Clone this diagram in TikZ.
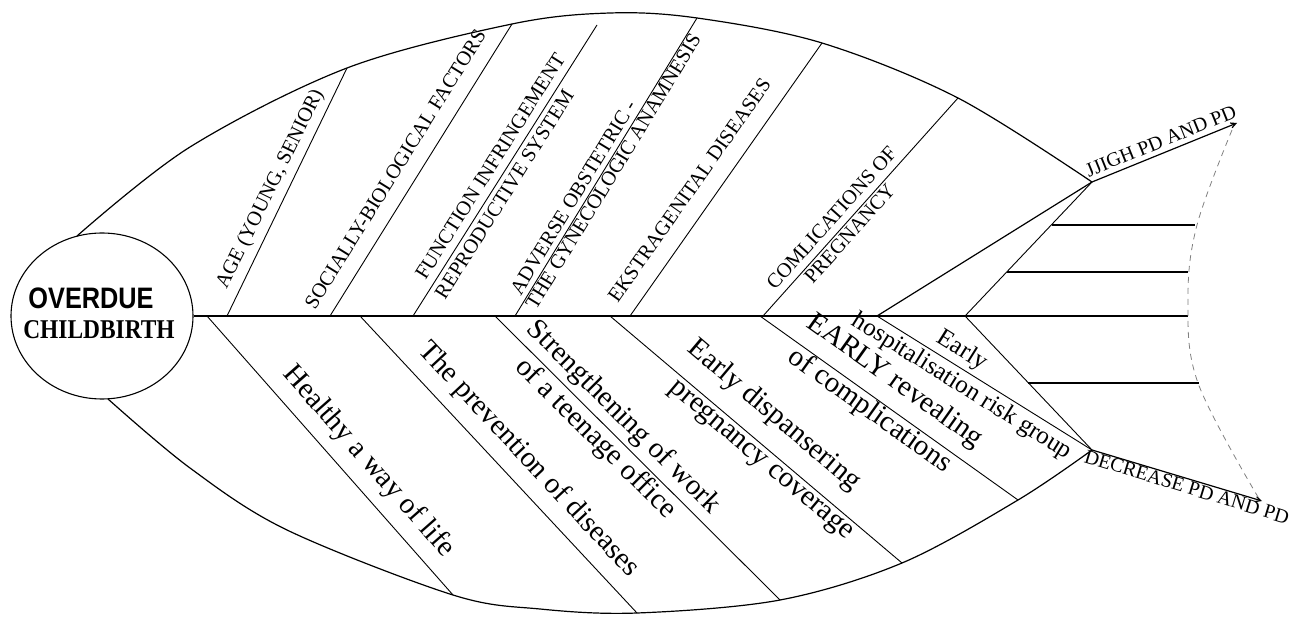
\documentclass[tikz,border=0pt]{standalone}
\usepackage{fontspec}
\setmainfont{Liberation Serif}
\newfontfamily\arialfont{Liberation Sans}
\usetikzlibrary{arrows.meta,shapes.geometric}
\begin{document}
\begin{tikzpicture}[x=1pt,y=-1pt,
  bone/.style={line width=0.9pt},
  body/.style={line width=1.2pt},
  spinel/.style={line width=1.8pt},
  fin/.style={line width=1.3pt},
  toplab/.style={font=\fontsize{20.5}{20.5}\selectfont, inner sep=0pt, text height=0.68em, text depth=0pt},
  botlab/.style={font=\fontsize{29}{29}\selectfont, inner sep=0pt, text height=0.68em, text depth=0.2em},
  midlab/.style={font=\fontsize{25}{25}\selectfont, inner sep=0pt, text height=0.68em, text depth=0.2em},
  tiplab/.style={font=\fontsize{20}{20}\selectfont, inner sep=0pt, text height=0.68em, text depth=0pt},
  tip/.style={-{Straight Barb[length=5pt,width=5pt]}}
]
\useasboundingbox (0,0) rectangle (1298,617);
% head
\node[draw, line width=1.1pt, ellipse, minimum width=182pt, minimum height=166pt, inner sep=0pt] (head) at (102,316) {};
\node[inner sep=0pt] (over) at (91,298) {\scalebox{1}[1.17]{\arialfont\bfseries\fontsize{25.3}{26}\selectfont OVERDUE}};
\node[inner sep=0pt] (child) at (99,330) {\scalebox{1}[1.16]{\bfseries\fontsize{23.4}{26}\selectfont CHILDBIRTH}};
% coordinates
\coordinate (c0) at (77,236);
\coordinate (c1) at (190,147);
\coordinate (cm) at (610,13);
\coordinate (d0) at (108,399);
\coordinate (d1) at (190,468);
\coordinate (d2) at (287,530);
\coordinate (d3) at (540,609);
\coordinate (d4) at (637,613);
\coordinate (spend) at (1188,316);
\coordinate (s1) at (227,316); \coordinate (t1) at (347,68);
\coordinate (s2) at (330,316); \coordinate (t2) at (512,24);
\coordinate (s3) at (413,316); \coordinate (t3) at (597,25);
\coordinate (s4) at (515,316); \coordinate (t4) at (697,18);
\coordinate (s5) at (630,316); \coordinate (t5) at (822,43);
\coordinate (s6) at (763,316); \coordinate (t6) at (958,98);
\coordinate (b1) at (207,316); \coordinate (e1) at (453,595);
\coordinate (b2) at (360,316); \coordinate (e2) at (637,613);
\coordinate (b3) at (495,316); \coordinate (e3) at (780,600);
\coordinate (b4) at (610,316); \coordinate (e4) at (902,563);
\coordinate (b5) at (760,316); \coordinate (e5) at (1018,500);
\coordinate (a1) at (877,316);
\coordinate (a2) at (965,316);
\coordinate (J1) at (1092,182);
\coordinate (J2) at (1092,450);
\coordinate (h1) at (1237,123);
\coordinate (h2) at (1262,501);
\coordinate (r1a) at (1052,225); \coordinate (r1b) at (1195,225);
\coordinate (r2a) at (1007,272); \coordinate (r2b) at (1188,272);
\coordinate (r3a) at (1028,383); \coordinate (r3b) at (1199,383);
% body outline
\draw[body] plot[smooth, tension=0.55] coordinates {(c0) (c1) (t1) (t2) (cm) (t4) (t5) (t6) (J1)};
\draw[body] plot[smooth, tension=0.55] coordinates {(d0) (d1) (d2) (e1) (d3) (d4) (e3) (e4) (e5) (J2)};
% spine
\draw[spinel] (head.east) -- (spend);
% top bones
\draw[bone] (s1) -- (t1);
\draw[bone] (s2) -- (t2);
\draw[bone] (s3) -- (t3);
\draw[bone] (s4) -- (t4);
\draw[bone] (s5) -- (t5);
\draw[bone] (s6) -- (t6);
% bottom bones
\draw[bone] (b1) -- (e1);
\draw[bone] (b2) -- (e2);
\draw[bone] (b3) -- (e3);
\draw[bone] (b4) -- (e4);
\draw[bone] (b5) -- (e5);
% tail
\draw[body] (a1) -- (J1);
\draw[bone] (a1) -- (J2);
\draw[bone] (a2) -- (J1);
\draw[bone] (a2) -- (J2);
\draw[fin] (r1a) -- (r1b);
\draw[fin] (r2a) -- (r2b);
\draw[fin] (r3a) -- (r3b);
\draw[body, tip] (J1) -- (h1);
\draw[body, tip] (J2) -- (h2);
\draw[gray, line width=0.8pt, dash pattern=on 6pt off 5pt] plot[smooth, tension=0.6] coordinates {(1232,130) (1197,225) (1188,300) (1198,383) (1258,497)};
% top labels
\node[toplab, rotate=63.8] (l1) at (272,190) {AGE (YOUNG, SENIOR)};
\node[toplab, rotate=58.1] (l2) at (398,171) {SOCIALLY-BIOLOGICAL FACTORS};
\node[toplab, rotate=57.7] (l3a) at (493,168) {FUNCTION INFRINGEMENT};
\node[toplab, rotate=57.7] (l3b) at (507,196) {REPRODUCTIVE SYSTEM};
\node[toplab, rotate=58.6] (l4a) at (576,199) {ADVERSE OBSTETRIC -};
\node[toplab, rotate=58.6] (l4b) at (616,173) {THE GYNECOLOGIC ANAMNESIS};
\node[toplab, rotate=54.9] (l5) at (692,192) {EKSTRAGENITAL DISEASES};
\node[toplab, rotate=48.2] (l6a) at (834,220) {COMLICATIONS OF};
\node[toplab, rotate=48.2] (l6b) at (852,236) {PREGNANCY};
\node[tiplab, rotate=22.1] (lh) at (1162,144) {JJIGH PD AND PD};
\node[tiplab, rotate=-17] (ld) at (1186,490) {DECREASE PD AND PD};
% bottom labels
\node[botlab, rotate=-48.6] (m1) at (365,465) {Healthy a way of life};
\node[botlab, rotate=-47] (m2) at (525,463) {The prevention of diseases};
\node[botlab, rotate=-44.9] (m3a) at (620,421) {Strengthening of work};
\node[botlab, rotate=-44.9] (m3b) at (592,442) {of a teenage office};
\node[botlab, rotate=-40.2] (m4a) at (771,419) {Early dispansering};
\node[botlab, rotate=-40.2] (m4b) at (759,463) {pregnancy coverage};
\node[botlab, rotate=-35.5] (m5a) at (892,385) {EARLY revealing};
\node[botlab, rotate=-35.5] (m5b) at (867,415) {of complications};
\node[midlab, rotate=-32] (m6a) at (960,354) {Early};
\node[midlab, rotate=-32] (m6b) at (960,390) {hospitalisation risk group};
\end{tikzpicture}
\end{document}
